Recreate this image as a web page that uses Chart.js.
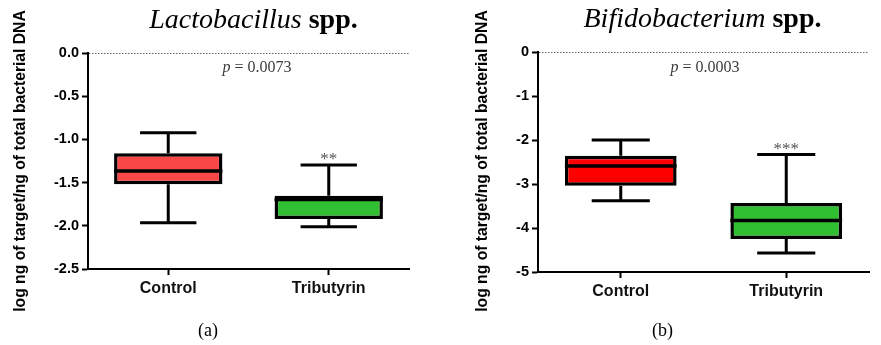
<!DOCTYPE html>
<html><head><meta charset="utf-8">
<style>
html,body{margin:0;padding:0;background:#fff;width:881px;height:345px;overflow:hidden}
canvas{position:absolute;top:0}
#c1{left:0}
#c2{left:440px}
</style>
<script src="https://cdn.jsdelivr.net/npm/chart.js@4"></script>
</head><body>
<canvas id="c1" width="440" height="345"></canvas>
<canvas id="c2" width="441" height="345"></canvas>
<script>
const categories = ['Control', 'Tributyrin'];

// Lactobacillus spp. (panel a)
const lactoMin = [-1.964, -2.01];
const lactoQ1  = [-1.52, -1.921];
const lactoMed = [-1.366, -1.696];
const lactoQ3  = [-1.161, -1.652];
const lactoMax = [-0.922, -1.296];
const lactoTickValues = [-2.5, -2.0, -1.5, -1.0, -0.5, 0.0];
const lactoTickLabels = ['-2.5', '-2.0', '-1.5', '-1.0', '-0.5', '0.0'];
const lactoStars = ['', '**'];

// Bifidobacterium spp. (panel b)
const bifMin = [-3.38, -4.57];
const bifQ1  = [-3.04, -4.25];
const bifMed = [-2.59, -3.83];
const bifQ3  = [-2.36, -3.43];
const bifMax = [-2.0, -2.33];
const bifTickValues = [-5, -4, -3, -2, -1, 0];
const bifTickLabels = ['-5', '-4', '-3', '-2', '-1', '0'];
const bifStars = ['', '***'];

const yTitle = 'log ng of target/ng of total bacterial DNA';

const boxPlugin = {
  id: 'boxExtras',
  beforeDatasetsDraw(chart, args, o) {
    const {ctx, chartArea, scales: {x, y}} = chart;
    ctx.save();
    ctx.strokeStyle = '#666';
    ctx.lineWidth = 1;
    ctx.setLineDash([1.5, 1.5]);
    const y0 = Math.round(y.getPixelForValue(0)) + 0.5;
    ctx.beginPath();
    ctx.moveTo(chartArea.left + 1, y0);
    ctx.lineTo(chartArea.right, y0);
    ctx.stroke();
    ctx.setLineDash([]);
    const meta = chart.getDatasetMeta(0);
    ctx.strokeStyle = '#000';
    ctx.lineWidth = 3;
    meta.data.forEach((bar, i) => {
      const cx = x.getPixelForValue(i);
      const capHalf = bar.width * 0.26;
      const yMax = y.getPixelForValue(o.max[i]);
      const yMin = y.getPixelForValue(o.min[i]);
      const yQ3 = y.getPixelForValue(o.q3[i]);
      const yQ1 = y.getPixelForValue(o.q1[i]);
      ctx.beginPath();
      ctx.moveTo(cx, yMax); ctx.lineTo(cx, yQ3);
      ctx.moveTo(cx - capHalf, yMax); ctx.lineTo(cx + capHalf, yMax);
      ctx.moveTo(cx, yQ1); ctx.lineTo(cx, yMin);
      ctx.moveTo(cx - capHalf, yMin); ctx.lineTo(cx + capHalf, yMin);
      ctx.stroke();
    });
    ctx.restore();
  },
  afterDatasetsDraw(chart, args, o) {
    const {ctx, scales: {x, y}} = chart;
    const meta = chart.getDatasetMeta(0);
    ctx.save();
    ctx.strokeStyle = '#000';
    ctx.lineWidth = 3.5;
    meta.data.forEach((bar, i) => {
      const yM = y.getPixelForValue(o.med[i]);
      ctx.beginPath();
      ctx.moveTo(bar.x - bar.width / 2, yM);
      ctx.lineTo(bar.x + bar.width / 2, yM);
      ctx.stroke();
    });
    ctx.restore();
  },
  afterDraw(chart, args, o) {
    const {ctx, scales: {x, y}} = chart;
    ctx.save();
    ctx.textAlign = 'left';
    ctx.textBaseline = 'alphabetic';
    ctx.fillStyle = '#000';
    const f1 = 'italic 28px "Liberation Serif"', f2 = 'bold 28px "Liberation Serif"';
    ctx.font = f1; const w1 = ctx.measureText(o.titleItalic).width;
    ctx.font = f2; const w2 = ctx.measureText(o.titleBold).width;
    const sx = o.titleX - (w1 + w2) / 2;
    ctx.font = f1; ctx.fillText(o.titleItalic, sx, o.titleY);
    ctx.font = f2; ctx.fillText(o.titleBold, sx + w1, o.titleY);
    ctx.fillStyle = '#3a3a3a';
    const p1 = 'italic 16px "Liberation Serif"', p2 = '16px "Liberation Serif"';
    ctx.font = p1; const pw1 = ctx.measureText('p').width;
    ctx.font = p2; const pw2 = ctx.measureText(o.pText).width;
    const px = o.pX - (pw1 + pw2) / 2;
    ctx.font = p1; ctx.fillText('p', px, o.pY);
    ctx.font = p2; ctx.fillText(o.pText, px + pw1, o.pY);
    ctx.fillStyle = '#555';
    ctx.font = '17px "Liberation Serif"';
    ctx.textAlign = 'center';
    o.stars.forEach((s, i) => {
      if (!s) return;
      ctx.fillText(s, x.getPixelForValue(i), y.getPixelForValue(o.max[i]) - 1);
    });
    ctx.fillStyle = '#000';
    ctx.font = '18px "Liberation Serif"';
    ctx.fillText(o.label, o.labelX, o.labelY);
    ctx.translate(o.yTitleX, o.yTitleY);
    ctx.rotate(-Math.PI / 2);
    ctx.font = 'bold 15.7px "Liberation Sans"';
    ctx.textBaseline = 'middle';
    ctx.fillStyle = '#000';
    ctx.fillText(yTitle, 0, 0);
    ctx.restore();
  }
};

function makeChart(id, d) {
  return new Chart(document.getElementById(id), {
    type: 'bar',
    data: {
      labels: categories,
      datasets: [{
        data: categories.map((c, i) => [d.q1[i], d.q3[i]]),
        backgroundColor: d.colors,
        borderColor: '#000',
        borderWidth: 3.5,
        borderSkipped: false,
        barPercentage: 0.675,
        categoryPercentage: 1.0
      }]
    },
    plugins: [boxPlugin],
    options: {
      responsive: false,
      animation: false,
      events: [],
      layout: {padding: {left: 0, top: d.top, right: d.right, bottom: 0}},
      plugins: {
        legend: {display: false},
        tooltip: {enabled: false},
        title: {display: false},
        boxExtras: d.extras
      },
      scales: {
        x: {
          offset: true,
          grid: {display: true, drawOnChartArea: false, drawTicks: true, offset: false,
                 tickLength: 6, tickWidth: 2, tickColor: '#000', color: '#000'},
          border: {display: true, color: '#000', width: 2},
          ticks: {color: '#111', padding: 4, font: {family: 'Liberation Sans', size: 16, weight: 'bold'}},
          afterFit(s) { s.height = d.xHeight; }
        },
        y: {
          min: d.tickValues[0],
          max: d.tickValues[d.tickValues.length - 1],
          afterBuildTicks(s) { s.ticks = d.tickValues.map(v => ({value: v})); },
          grid: {display: true, drawOnChartArea: false, drawTicks: true,
                 tickLength: 6, tickWidth: 2, tickColor: '#000', color: '#000'},
          border: {display: true, color: '#000', width: 2},
          ticks: {
            color: '#000', padding: 3,
            font: {family: 'Liberation Sans', size: 14.5, weight: 'bold'},
            callback: (v, i) => d.tickLabels[i]
          },
          afterFit(s) { s.width = d.yWidth; }
        }
      }
    }
  });
}

makeChart('c1', {
  q1: lactoQ1, q3: lactoQ3, colors: ['#f94646', '#30bf30'],
  tickValues: lactoTickValues, tickLabels: lactoTickLabels,
  top: 53, right: 31, xHeight: 76, yWidth: 88,
  extras: {
    min: lactoMin, q1: lactoQ1, med: lactoMed, q3: lactoQ3, max: lactoMax,
    stars: lactoStars,
    titleItalic: 'Lactobacillus', titleBold: ' spp.', titleX: 253.5, titleY: 28,
    pText: ' = 0.0073', pX: 257, pY: 72,
    label: '(a)', labelX: 208, labelY: 336,
    yTitleX: 21, yTitleY: 161
  }
});

makeChart('c2', {
  q1: bifQ1, q3: bifQ3, colors: ['#ff0000', '#30bf30'],
  tickValues: bifTickValues, tickLabels: bifTickLabels,
  top: 52, right: 12, xHeight: 73, yWidth: 98,
  extras: {
    min: bifMin, q1: bifQ1, med: bifMed, q3: bifQ3, max: bifMax,
    stars: bifStars,
    titleItalic: 'Bifidobacterium', titleBold: ' spp.', titleX: 262.5, titleY: 27,
    pText: ' = 0.0003', pX: 265, pY: 72,
    label: '(b)', labelX: 222.5, labelY: 336,
    yTitleX: 42.5, yTitleY: 161
  }
});
</script>
</body></html>
